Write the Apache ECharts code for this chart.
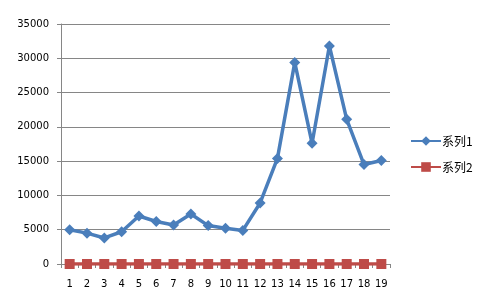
<!DOCTYPE html>
<html><head><meta charset="utf-8">
<script src="https://cdn.jsdelivr.net/npm/echarts@6/dist/echarts.min.js"></script>
<style>html,body{margin:0;padding:0;background:#fff}#c{width:488px;height:302px}</style>
</head><body><div id="c"></div>
<script>
const categories = ['1','2','3','4','5','6','7','8','9','10','11','12','13','14','15','16','17','18','19'];
const series1 = [5000,4500,3800,4700,7000,6200,5700,7300,5600,5200,4900,8900,15400,29400,17600,31800,21100,14500,15100];
const series2 = [0,0,0,0,0,0,0,0,0,0,0,0,0,0,0,0,0,0,0];
const seriesNames = ['系列1','系列2'];
const yTicks = {min:0, max:35000, interval:5000};

const chart = echarts.init(document.getElementById('c'), null, {renderer:'canvas'});
const axisGrey = '#868686';
chart.setOption({
  animation:false,
  backgroundColor:'#fff',
  grid:{left:61, right:98, top:24, bottom:38},
  legend:{
    orient:'vertical', left:405, top:130, itemWidth:30, itemHeight:12, itemGap:14,
    textStyle:{fontFamily:'"Noto Sans CJK SC"', fontSize:12, color:'#000', padding:[0,0,0,-4]},
    data:seriesNames
  },
  xAxis:{
    type:'category', data:categories, boundaryGap:true,
    axisLine:{lineStyle:{color:axisGrey, width:1}},
    axisTick:{show:true, length:4, lineStyle:{color:axisGrey}},
    axisLabel:{color:'#000', fontFamily:'DejaVu Sans', fontSize:10, margin:15, interval:0}
  },
  yAxis:{
    type:'value', min:yTicks.min, max:yTicks.max, interval:yTicks.interval,
    axisLine:{show:true, lineStyle:{color:axisGrey, width:1}},
    axisTick:{show:true, length:4, lineStyle:{color:axisGrey}},
    splitLine:{show:true, lineStyle:{color:axisGrey, width:1}},
    axisLabel:{color:'#000', fontFamily:'DejaVu Sans', fontSize:10, margin:12, formatter:function(v){return String(v);}}
  },
  series:[
    {name:seriesNames[0], type:'line', data:series1, symbol:'diamond', symbolSize:11,
     lineStyle:{color:'#4A7EBB', width:3.5}, itemStyle:{color:'#4A7EBB'}, z:3},
    {name:seriesNames[1], type:'line', data:series2, symbol:'rect', symbolSize:10,
     lineStyle:{color:'#BE4B48', width:3.5}, itemStyle:{color:'#BE4B48'}, z:2}
  ]
});
</script></body></html>
